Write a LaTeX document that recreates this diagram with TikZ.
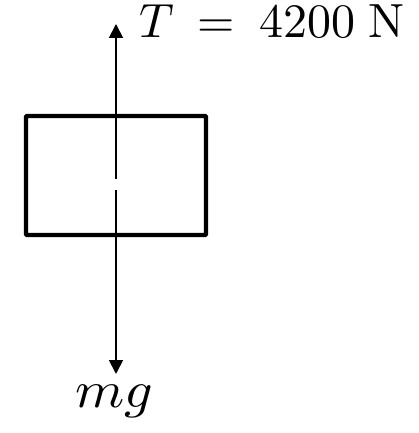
\documentclass[tikz,border=0pt]{standalone}
\usepackage{graphicx}
\usetikzlibrary{arrows.meta}
\begin{document}
\begin{tikzpicture}[x=1pt,y=-1pt,
  body/.style={draw,line width=4.4pt,rounded corners=1pt,minimum width=180pt,minimum height=119pt,inner sep=0pt},
  force/.style={line width=1.8pt,-{Triangle[width=14pt,length=14pt]}},
  lbl/.style={inner sep=0pt}]
\useasboundingbox (0,0) rectangle (419,433);
\node[body] (box) at (116,175.5) {};
\coordinate (gtop) at (116,179);
\coordinate (gbot) at (116,190);
\coordinate (tip1) at (116,24);
\coordinate (tip2) at (116,374);
\draw[force] (gtop) -- (tip1);
\draw[force] (gbot) -- (tip2);
\node[lbl,anchor=base west] (T) at (139,37.5) {\scalebox{4.8}{$T \:=\: 4200\;\mathrm{N}$}};
\node[lbl,anchor=base] (mg) at (114,407) {\scalebox{5.6}[5.2]{$mg$}};
\end{tikzpicture}
\end{document}
